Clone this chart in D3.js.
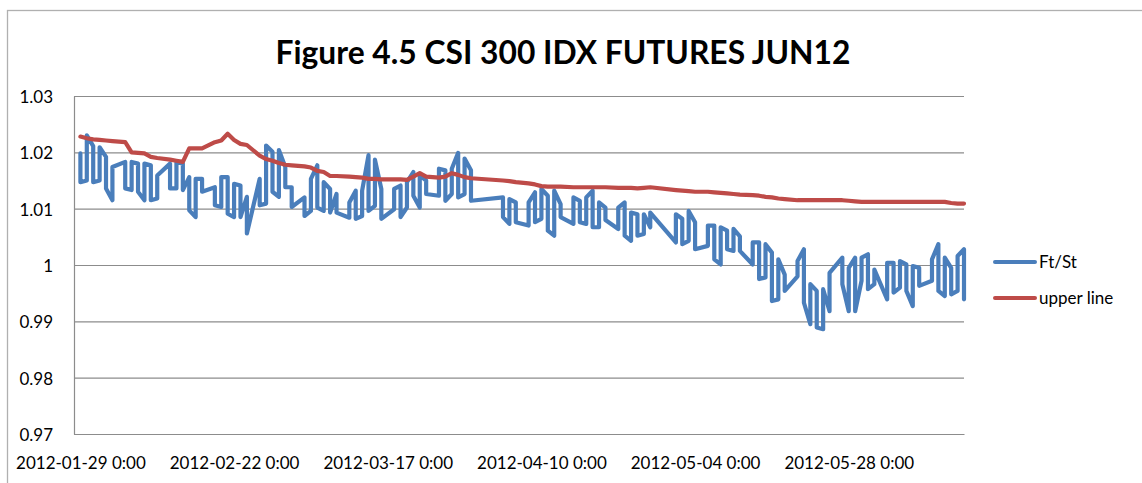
<!DOCTYPE html>
<html>
<head>
<meta charset="utf-8">
<script src="https://cdn.jsdelivr.net/npm/d3@7"></script>
<style>
  body { margin: 0; background: #fff; }
  text { font-family: Lato, "Open Sans", sans-serif; fill: #000; }
</style>
</head>
<body>
<script>
// calendar dates of the samples (intraday points fall on the same date)
const dates = [
  '2012-01-29','2012-01-30','2012-01-31','2012-02-01','2012-02-02','2012-02-03',
  '2012-02-05','2012-02-06','2012-02-07','2012-02-08','2012-02-09','2012-02-10',
  '2012-02-12','2012-02-13','2012-02-14','2012-02-15','2012-02-16','2012-02-17',
  '2012-02-19','2012-02-20','2012-02-21','2012-02-22','2012-02-23','2012-02-24',
  '2012-02-26','2012-02-27','2012-02-28','2012-02-29','2012-03-01','2012-03-02',
  '2012-03-04','2012-03-05','2012-03-06','2012-03-07','2012-03-08','2012-03-09',
  '2012-03-11','2012-03-12','2012-03-13','2012-03-14','2012-03-15','2012-03-16',
  '2012-03-18','2012-03-19','2012-03-20','2012-03-21','2012-03-22','2012-03-23',
  '2012-03-25','2012-03-26','2012-03-27','2012-03-28','2012-03-29','2012-03-30',
  '2012-04-04','2012-04-05','2012-04-06',
  '2012-04-08','2012-04-09','2012-04-10','2012-04-11','2012-04-12','2012-04-13',
  '2012-04-15','2012-04-16','2012-04-17','2012-04-18','2012-04-19','2012-04-20',
  '2012-04-22','2012-04-23','2012-04-24','2012-04-25','2012-04-26','2012-04-27',
  '2012-05-01','2012-05-02','2012-05-03','2012-05-04',
  '2012-05-06','2012-05-07','2012-05-08','2012-05-09','2012-05-10','2012-05-11',
  '2012-05-13','2012-05-14','2012-05-15','2012-05-16','2012-05-17','2012-05-18',
  '2012-05-20','2012-05-21','2012-05-22','2012-05-23','2012-05-24','2012-05-25',
  '2012-05-27','2012-05-28','2012-05-29','2012-05-30','2012-05-31','2012-06-01',
  '2012-06-03','2012-06-04','2012-06-05','2012-06-06','2012-06-07','2012-06-08',
  '2012-06-10','2012-06-11','2012-06-12','2012-06-13','2012-06-14','2012-06-15'
];

// Ft/St: first and last reading of each date
const ftStFirst = [
  1.0198,1.0150,1.0211,1.0150,1.0192,1.0115,
  1.0183,1.0133,1.0180,1.0115,1.0177,1.0118,
  1.0180,1.0136,1.0180,1.0156,1.0085,1.0153,
  1.0138,1.0103,1.0156,1.0085,1.0141,1.0121,
  1.0153,1.0109,1.0201,1.0121,1.0174,1.0138,
  1.0120,1.0096,1.0177,1.0096,1.0135,1.0126,
  1.0084,1.0132,1.0087,1.0195,1.0105,1.0135,
  1.0099,1.0141,1.0102,1.0165,1.0102,1.0150,
  1.0123,1.0168,1.0126,1.0199,1.0126,1.0168,
  1.0120,1.0073,1.0111,
  1.0070,1.0129,1.0082,1.0123,1.0052,1.0108,
  1.0073,1.0114,1.0073,1.0132,1.0067,1.0102,
  1.0064,1.0111,1.0043,1.0090,1.0055,1.0067,
  1.0040,1.0082,1.0043,1.0076,
  1.0034,1.0070,1.0001,1.0061,1.0025,1.0051,
  1.0001,1.0040,0.9978,1.0022,0.9939,0.9983,
  0.9980,1.0028,0.9895,0.9954,0.9886,0.9918,
  1.0013,0.9918,1.0013,0.9972,1.0019,0.9966,
  0.9939,1.0004,0.9960,1.0001,0.9927,0.9995,
  0.9972,1.0037,0.9945,0.9995,0.9954,1.0028
];
const ftStLast = [
  1.0147,1.0230,1.0147,1.0209,1.0136,1.0174,
  1.0136,1.0183,1.0130,1.0180,1.0115,1.0159,
  1.0136,1.0183,1.0133,1.0097,1.0153,1.0130,
  1.0106,1.0156,1.0091,1.0144,1.0085,1.0056,
  1.0106,1.0212,1.0130,1.0204,1.0138,1.0103,
  1.0087,1.0153,1.0102,1.0147,1.0093,1.0093,
  1.0111,1.0082,1.0132,1.0096,1.0187,1.0082,
  1.0135,1.0085,1.0147,1.0123,1.0159,1.0126,
  1.0171,1.0114,1.0171,1.0120,1.0189,1.0114,
  1.0085,1.0117,1.0076,
  1.0111,1.0076,1.0135,1.0061,1.0132,1.0085,
  1.0120,1.0076,1.0120,1.0067,1.0111,1.0080,
  1.0102,1.0052,1.0093,1.0052,1.0090,1.0093,
  1.0090,1.0037,1.0096,1.0028,
  1.0070,1.0010,1.0067,1.0028,1.0064,1.0025,
  1.0040,0.9975,1.0037,0.9936,1.0010,0.9954,
  1.0007,0.9933,0.9966,0.9889,0.9957,0.9986,
  0.9966,0.9995,0.9918,1.0013,0.9957,0.9992,
  1.0004,0.9951,1.0007,0.9954,0.9998,0.9963,
  1.0010,0.9954,1.0013,0.9948,1.0016,0.9939
];

const upperLine = [
  1.0228,1.0225,1.0223,1.0222,1.0221,1.0220,
  1.0218,1.0200,1.0199,1.0198,1.0192,1.0190,
  1.0187,1.0185,1.0183,1.0207,1.0207,1.0207,
  1.0218,1.0221,1.0233,1.0222,1.0215,1.0213,
  1.0194,1.0188,1.0185,1.0181,1.0178,1.0177,
  1.0175,1.0173,1.0167,1.0165,1.0158,1.0158,
  1.0157,1.0156,1.0155,1.0153,1.0153,1.0152,
  1.0152,1.0152,1.0151,1.0157,1.0163,1.0157,
  1.0155,1.0157,1.0163,1.0160,1.0156,1.0154,
  1.0150,1.0149,1.0147,
  1.0145,1.0143,1.0140,1.0139,1.0139,1.0139,
  1.0138,1.0138,1.0138,1.0138,1.0138,1.0138,
  1.0137,1.0137,1.0137,1.0136,1.0137,1.0138,
  1.0133,1.0132,1.0131,1.0130,
  1.0130,1.0129,1.0128,1.0127,1.0126,1.0125,
  1.0124,1.0123,1.0121,1.0120,1.0118,1.0117,
  1.0115,1.0115,1.0115,1.0115,1.0115,1.0115,
  1.0115,1.0114,1.0113,1.0112,1.0112,1.0112,
  1.0112,1.0112,1.0112,1.0112,1.0112,1.0112,
  1.0112,1.0112,1.0112,1.0110,1.0109,1.0109
];

const yTicks = [0.97, 0.98, 0.99, 1.00, 1.01, 1.02, 1.03];
const xTickDates = ['2012-01-29','2012-02-22','2012-03-17','2012-04-10','2012-05-04','2012-05-28'];
const seriesNames = ['Ft/St', 'upper line'];
const seriesColors = ['#4a7ebb', '#be4b48'];

const width = 1142, height = 483;
const plot = { left: 74, right: 964, top: 96, bottom: 434 };

const parse = d3.timeParse('%Y-%m-%d');
// each date sits in the middle of its day slot
const mid = s => d3.timeHour.offset(parse(s), 12);

const svg = d3.select('body').append('svg')
    .attr('width', width).attr('height', height);

// chart area border
svg.append('rect')
    .attr('x', 7.5).attr('y', 10.5)
    .attr('width', 1200).attr('height', 600)
    .attr('fill', '#fff').attr('stroke', '#b0b0b0').attr('stroke-width', 1.3);

const x = d3.scaleTime()
    .domain([d3.timeHour.offset(parse(dates[0]), -12), d3.timeHour.offset(parse(dates[dates.length - 1]), 12)])
    .range([plot.left, plot.right]);
const y = d3.scaleLinear().domain([0.97, 1.03]).range([plot.bottom, plot.top]);

// gridlines
svg.append('g')
    .attr('transform', 'translate(' + plot.left + ',0)')
    .call(d3.axisLeft(y).tickValues(yTicks).tickSize(-(plot.right - plot.left)).tickFormat(''))
    .call(g => g.select('.domain').remove())
    .selectAll('line').attr('stroke', '#8c8c8c').attr('stroke-width', 1.2);

// y axis labels
svg.append('g')
    .attr('transform', 'translate(' + plot.left + ',0)')
    .call(d3.axisLeft(y).tickValues(yTicks).tickSize(0).tickPadding(21)
        .tickFormat(d => String(+d.toFixed(2))))
    .call(g => g.select('.domain').attr('stroke', '#8c8c8c').attr('stroke-width', 1.2))
    .selectAll('text')
    .attr('font-size', 17).attr('font-family', 'Lato, sans-serif').attr('dy', '0.38em');

// x axis
const fmt = d3.timeFormat('%Y-%m-%d');
svg.append('g')
    .attr('transform', 'translate(0,' + plot.bottom + ')')
    .call(d3.axisBottom(x).tickValues(xTickDates.map(mid)).tickSize(0).tickPadding(23)
        .tickFormat(d => fmt(d) + ' 0:00'))
    .call(g => g.select('.domain').attr('stroke', '#8c8c8c').attr('stroke-width', 1.2))
    .selectAll('text')
    .attr('font-size', 17).attr('font-family', 'Lato, sans-serif');

// Ft/St: two readings per date, drawn at the same x
const ftSt = [];
dates.forEach((d, i) => {
  ftSt.push({ date: mid(d), v: ftStFirst[i] });
  ftSt.push({ date: mid(d), v: ftStLast[i] });
});
const upper = dates.map((d, i) => ({ date: mid(d), v: upperLine[i] }));

const line = d3.line().x(d => x(d.date)).y(d => y(d.v));

svg.append('path')
    .datum(ftSt)
    .attr('fill', 'none')
    .attr('stroke', seriesColors[0])
    .attr('stroke-width', 4.2)
    .attr('stroke-linejoin', 'round')
    .attr('stroke-linecap', 'round')
    .attr('d', line);

svg.append('path')
    .datum(upper)
    .attr('fill', 'none')
    .attr('stroke', seriesColors[1])
    .attr('stroke-width', 4.2)
    .attr('stroke-linejoin', 'round')
    .attr('stroke-linecap', 'round')
    .attr('d', line);

// title, fitted to the width it takes in the original
const title = svg.append('text')
    .attr('x', 563).attr('y', 64)
    .attr('text-anchor', 'middle')
    .attr('font-weight', 'bold')
    .attr('font-size', 28)
    .text('Figure 4.5 CSI 300 IDX FUTURES JUN12');
const tw = title.node().getComputedTextLength();
title.attr('font-size', 28 * 575 / tw);

// legend
const legend = svg.append('g');
seriesNames.forEach((name, i) => {
  const ly = 262 + i * 36;
  legend.append('line')
      .attr('x1', 995).attr('x2', 1035)
      .attr('y1', ly).attr('y2', ly)
      .attr('stroke', seriesColors[i]).attr('stroke-width', 4)
      .attr('stroke-linecap', 'round');
  legend.append('text')
      .attr('x', 1039).attr('y', ly)
      .attr('dy', '0.35em')
      .attr('font-size', 17)
      .text(name);
});
</script>
</body>
</html>
